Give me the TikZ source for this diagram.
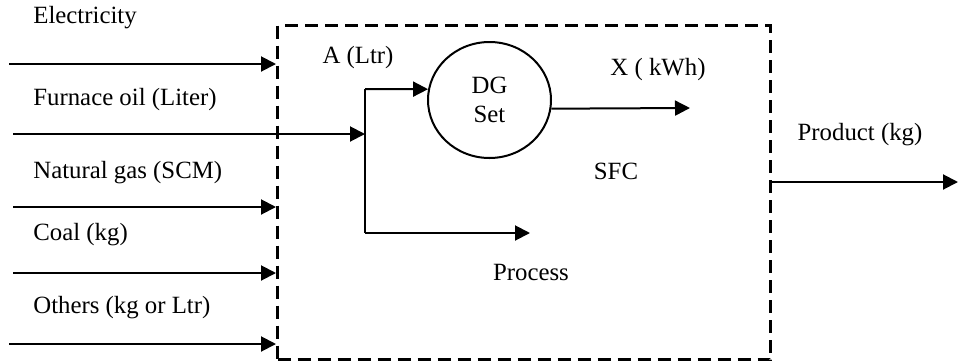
\documentclass[tikz,border=0pt]{standalone}
\usepackage{fontspec}
\setmainfont{Liberation Serif}
\usetikzlibrary{arrows.meta,shapes.geometric}
\begin{document}
\begin{tikzpicture}[x=0.5pt,y=-0.5pt,
  lbl/.style={font=\fontsize{12.4}{14}\selectfont, inner sep=0pt},
  flow/.style={line width=1pt,-{Triangle[length=7.5pt,width=7.5pt]}},
  plain/.style={line width=1pt},
  sysbox/.style={draw, line width=1.5pt, dash pattern=on 6.5pt off 3.5pt, inner sep=0pt,
    minimum width=246.5pt, minimum height=167pt, anchor=north west},
  dgnode/.style={ellipse, draw, line width=1pt, inner sep=0pt, minimum width=61.5pt,
    minimum height=58pt, align=center, font=\fontsize{12.4}{14.5}\selectfont}]
\useasboundingbox (0,0) rectangle (959,360);
% system boundary
\node (sys) [sysbox] at (276,24) {};
% DG set
\node (dg) [dgnode] at (489.5,100) {DG\\Set};
% labels
\node (tel) [lbl, anchor=west] at (33,18) {Electricity};
\node (tfo) [lbl, anchor=west] at (33,100) {Furnace oil (Liter)};
\node (tng) [lbl, anchor=west] at (33,173) {Natural gas (SCM)};
\node (tco) [lbl, anchor=west] at (33,235) {Coal (kg)};
\node (tot) [lbl, anchor=west] at (33,308) {Others (kg or Ltr)};
\node (ta) [lbl] at (358,58) {A (Ltr)};
\node (tx) [lbl] at (658,70) {X ( kWh)};
\node (tsfc) [lbl] at (616,171) {SFC};
\node (tpr) [lbl] at (531,272) {Process};
\node (tprod) [lbl] at (860,135) {Product (kg)};
% free ends
\coordinate (e1) at (9,64);
\coordinate (e2) at (13,134);
\coordinate (e3) at (13,207);
\coordinate (e4) at (13,273);
\coordinate (e5) at (9,344);
\coordinate (jt) at (365,89);
\coordinate (jm) at (365,134);
\coordinate (jb) at (365,233);
\coordinate (xo) at (690,108);
\coordinate (po) at (530,233);
\coordinate (pe) at (958,182);
% input arrows
\draw[flow] (e1) -- (e1 -| sys.west);
\draw[flow] (e2) -- (jm);
\draw[flow] (e3) -- (e3 -| sys.west);
\draw[flow] (e4) -- (e4 -| sys.west);
\draw[flow] (e5) -- (e5 -| sys.west);
% split
\draw[plain] (jt) -- (jb);
\draw[flow] (jt) -- (dg.170);
\draw[flow] (jb) -- (po);
\draw[flow] (dg.-8) -- (xo);
% product
\draw[flow] (pe -| sys.east) -- (pe);
\end{tikzpicture}
\end{document}
